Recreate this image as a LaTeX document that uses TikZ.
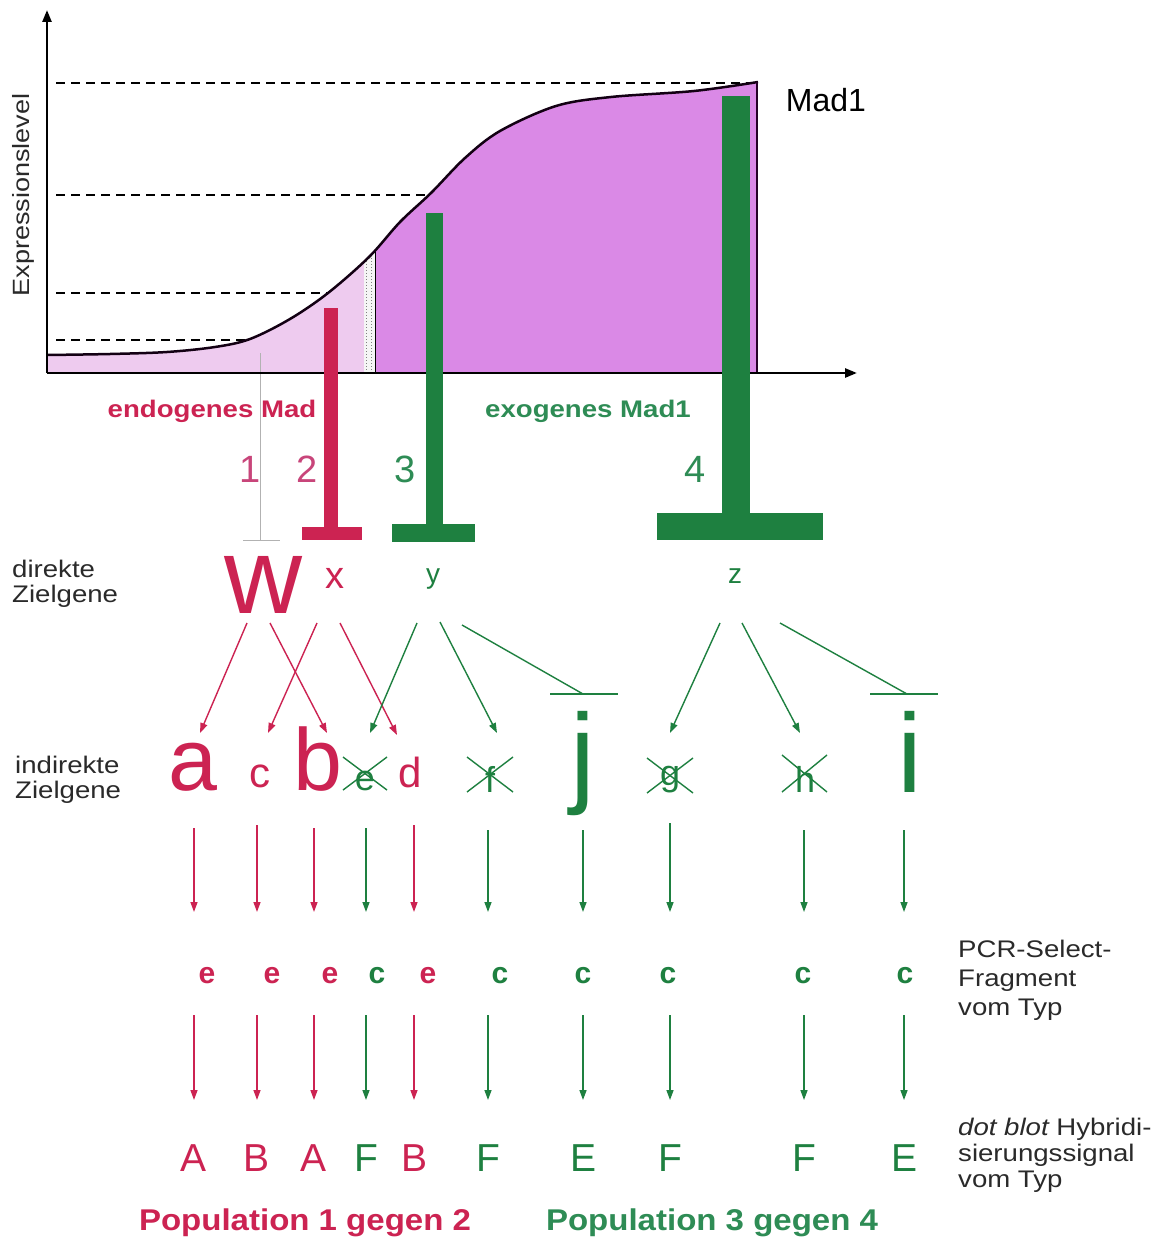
\documentclass[tikz,border=0pt]{standalone}
\usepackage{fontspec}
\setmainfont{Liberation Sans}
\newfontfamily\labf[FakeStretch=1.15]{Liberation Sans}
\newfontfamily\labbf[FakeStretch=1.15]{Liberation Sans Bold}
\newfontfamily\popf[FakeStretch=1.1]{Liberation Sans Bold}
\newfontfamily\boldf{Liberation Sans Bold}
\usetikzlibrary{arrows.meta,calc}
\definecolor{rd}{HTML}{CC2352}
\definecolor{rdl}{HTML}{C8457A}
\definecolor{gn}{HTML}{1E8040}
\definecolor{gnl}{HTML}{2E8C55}
\definecolor{violD}{HTML}{DA89E6}
\definecolor{violL}{HTML}{EECBEF}
\definecolor{lbl}{HTML}{2A2A2A}
\newcommand\fsz[1]{\fontsize{#1}{#1}\selectfont}
\begin{document}
\begin{tikzpicture}[x=1pt,y=-1pt,
  lt/.style={inner sep=0pt, anchor=base},
  ra/.style={draw=rd, line width=1.4pt, -{Triangle[length=10pt,width=7pt]}},
  ga/.style={draw=gn, line width=1.4pt, -{Triangle[length=10pt,width=7pt]}},
  gl/.style={draw=gn, line width=1.4pt},
  dl/.style={line width=1.8pt, dash pattern=on 9pt off 6pt},
  axis/.style={line width=2.5pt, -{Triangle[length=12pt,width=9pt]}},
  side/.style={inner sep=0pt, anchor=north west, align=left, text=lbl},
]
\fill[white] (0,0) rectangle (1160,1238);
\useasboundingbox (0,0) rectangle (1160,1238);

% dashed level lines
\draw[dl] (56,83) -- (756,83);
\draw[dl] (56,195) -- (428,195);
\draw[dl] (56,293) -- (328,293);
\draw[dl] (56,340) -- (250,340);

% filled area under the curve
\begin{scope}
\clip (47,373) -- plot[smooth,tension=0.55] coordinates {(47,355) (110,354) (167,352) (215,347) (250,339) (290,319) (328,293) (369,257) (400,222) (431,193) (465,158) (500,131) (556,106) (611,97) (694,91) (758,82)} -- (758,373) -- cycle;
\fill[violL] (47,0) rectangle (364,373);
\fill[violD] (375,0) rectangle (758,373);
\fill[white!92!gray] (364,0) rectangle (375,373);
\draw[gray, dotted, line width=1pt] (366.5,0) -- (366.5,373);
\draw[gray, dotted, line width=1pt] (371,0) -- (371,373);
\draw[black, line width=1pt] (375,0) -- (375,373);
\end{scope}
\draw[line width=2.5pt, black!85!violet] plot[smooth,tension=0.55] coordinates {(47,355) (110,354) (167,352) (215,347) (250,339) (290,319) (328,293) (369,257) (400,222) (431,193) (465,158) (500,131) (556,106) (611,97) (694,91) (758,82)};
\draw[line width=1.2pt, black!70!violet] (757,82) -- (757,373);

% thin line for population 1
\draw[gray!60, line width=1pt] (260,353) -- (260,540);
\draw[gray!60, line width=1pt] (243,540) -- (280,540);

% axes
\draw[axis] (47,373) -- (857,373);
\draw[axis] (47,373) -- (47,10);

% inhibitor bars
\fill[rd] (324,308) rectangle (338,528);
\fill[rd] (302,527) rectangle (362,540);
\fill[gn] (426,213) rectangle (443,525);
\fill[gn] (392,524) rectangle (475,542);
\fill[gn] (722,96) rectangle (750,514);
\fill[gn] (657,513) rectangle (823,540);

% axis labels
\node[inner sep=0pt, rotate=90, font=\labf\fsz{23.5}, text=lbl] (ylab) at (23,195) {Expressionslevel};
\node[lt, font=\fsz{32}] (mad) at (826,112) {Mad1};
\node[lt, text=rd, font=\labbf\fsz{24}] (endo) at (212,417) {endogenes Mad};
\node[lt, text=gnl, font=\labbf\fsz{24}] (exo) at (588,417) {exogenes Mad1};

% population numbers
\node[lt, text=rdl, font=\fsz{38}] (n1) at (250,482) {1};
\node[lt, text=rdl, font=\fsz{38}] (n2) at (307,482) {2};
\node[lt, text=gnl, font=\fsz{38}] (n3) at (405,482) {3};
\node[lt, text=gnl, font=\fsz{38}] (n4) at (695,482) {4};

% side labels
\node[side, font=\labf\fontsize{24}{25}\selectfont] (ldir) at (12,560) {direkte\\Zielgene};
\node[side, font=\labf\fontsize{24}{25}\selectfont] (lind) at (15,756) {indirekte\\Zielgene};
\node[side, font=\labf\fontsize{24}{29}\selectfont] (lpcr) at (958,940) {PCR-Select-\\Fragment\\vom Typ};
\node[side, font=\labf\fontsize{24}{26}\selectfont] (ldot) at (958,1118) {{\itshape dot blot} Hybridi-\\sierungssignal\\vom Typ};

% direct target genes
\node[lt, text=rd, font=\fsz{108}] (dw) at (263,613) {w};
\node[lt, text=rd, font=\fsz{38}] (dx) at (335,588) {x};
\node[lt, text=gn, font=\fsz{28}] (dy) at (433,583) {y};
\node[lt, text=gn, font=\fsz{28}] (dz) at (735,583) {z};

% indirect target genes
\node[lt, text=rd, font=\fsz{88}] (ta) at (193,790) {a};
\node[lt, text=rd, font=\fsz{42}] (tc) at (260,787) {c};
\node[lt, text=rd, font=\fsz{88}] (tb) at (318,790) {b};
\node[lt, text=gn, font=\fsz{36}] (te) at (365,790) {e};
\node[lt, text=rd, font=\fsz{42}] (td) at (410,787) {d};
\node[lt, text=gn, font=\fsz{36}] (tf) at (490,792) {f};
\node[lt, text=gn, font=\fsz{112}] (tj) at (583,792) {j};
\node[lt, text=gn, font=\fsz{36}] (tg) at (670,785) {g};
\node[lt, text=gn, font=\fsz{36}] (th) at (805,792) {h};
\node[lt, text=gn, font=\fsz{112}] (ti) at (910,792) {i};

% crosses over eliminated genes
\draw[gl] ($(te.base)+(-22,-33)$) -- ($(te.base)+(22,0)$);
\draw[gl] ($(te.base)+(-22,0)$) -- ($(te.base)+(22,-33)$);
\draw[gl] ($(tf.base)+(-23,-35)$) -- ($(tf.base)+(23,0)$);
\draw[gl] ($(tf.base)+(-23,0)$) -- ($(tf.base)+(23,-35)$);
\draw[gl] ($(tg.base)+(-23,-27)$) -- ($(tg.base)+(23,8)$);
\draw[gl] ($(tg.base)+(-23,8)$) -- ($(tg.base)+(23,-27)$);
\draw[gl] ($(th.base)+(-23,-37)$) -- ($(th.base)+(22,0)$);
\draw[gl] ($(th.base)+(-23,0)$) -- ($(th.base)+(22,-37)$);

% arrows direct -> indirect
\draw[ra] ($(dw.base)+(-16,10)$) -- ($(ta.base)+(7,-57)$);
\draw[ra] ($(dw.base)+(7,10)$) -- ($(tb.base)+(9,-57)$);
\draw[ra] ($(dx.base)+(-18,35)$) -- ($(tc.base)+(8,-54)$);
\draw[ra] ($(dx.base)+(5,35)$) -- ($(td.base)+(-13,-52)$);
\draw[ga] ($(dy.base)+(-16,40)$) -- ($(te.base)+(5,-57)$);
\draw[ga] ($(dy.base)+(7,39)$) -- ($(tf.base)+(7,-59)$);
\draw[gl] ($(dy.base)+(29,42)$) -- ($(tj.base)+(0,-98)$);
\draw[gl] ($(tj.base)+(-33,-98)$) -- ($(tj.base)+(35,-98)$);
\draw[ga] ($(dz.base)+(-15,40)$) -- ($(tg.base)+(0,-52)$);
\draw[ga] ($(dz.base)+(7,40)$) -- ($(th.base)+(-5,-59)$);
\draw[gl] ($(dz.base)+(45,40)$) -- ($(ti.base)+(-3,-98)$);
\draw[gl] ($(ti.base)+(-40,-98)$) -- ($(ti.base)+(28,-98)$);

% fragment types
\foreach \nm/\xx/\tx/\cl in {m1/207/e/rd, m2/272/e/rd, m3/330/e/rd, m4/377/c/gn, m5/428/e/rd, m6/500/c/gn, m7/583/c/gn, m8/668/c/gn, m9/803/c/gn, m10/905/c/gn}
  \node[lt, text=\cl, font=\boldf\fsz{30}] (\nm) at (\xx,983) {\tx};

% hybridisation signal types
\foreach \nm/\xx/\tx/\cl in {c1/194/A/rd, c2/257/B/rd, c3/314/A/rd, c4/366/F/gn, c5/414/B/rd, c6/488/F/gn, c7/583/E/gn, c8/670/F/gn, c9/804/F/gn, c10/904/E/gn}
  \node[lt, text=\cl, font=\fsz{39}] (\nm) at (\xx,1171) {\tx};

% vertical arrows
\foreach \tn/\mn/\cn/\cl in {ta/m1/c1/rd, tc/m2/c2/rd, tb/m3/c3/rd, te/m4/c4/gn, td/m5/c5/rd, tf/m6/c6/gn, tj/m7/c7/gn, tg/m8/c8/gn, th/m9/c9/gn, ti/m10/c10/gn}
{
  \draw[draw=\cl, line width=1.4pt, -{Triangle[length=10pt,width=7pt]}, \cl] ($(\tn.base -| \cn.base)+(0,38)$) -- ($(\mn.base -| \cn.base)+(0,-71)$);
  \draw[draw=\cl, line width=1.4pt, -{Triangle[length=10pt,width=7pt]}, \cl] ($(\mn.base -| \cn.base)+(0,32)$) -- ($(\cn.base)+(0,-71)$);
}

% population labels
\node[lt, text=rd, font=\popf\fsz{30}] (p12) at (305,1230) {Population 1 gegen 2};
\node[lt, text=gnl, font=\popf\fsz{30}] (p34) at (712,1230) {Population 3 gegen 4};
\end{tikzpicture}
\end{document}
